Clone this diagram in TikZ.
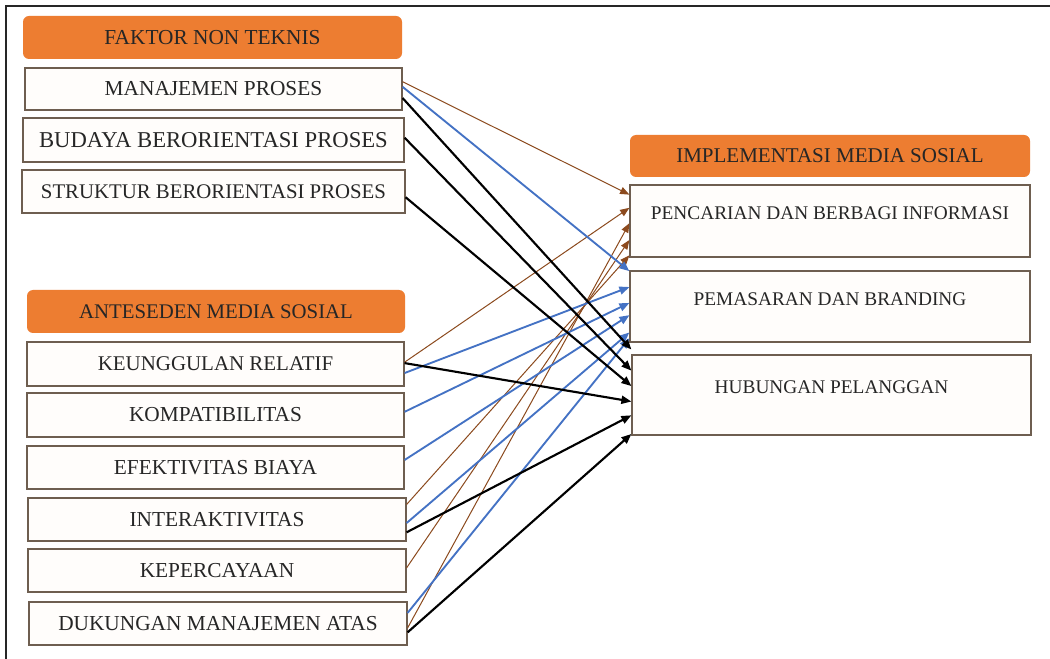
\documentclass[tikz,border=0pt]{standalone}
\usepackage{fontspec}
\setmainfont{Liberation Serif}
\usetikzlibrary{arrows.meta,calc}

\definecolor{hdrorange}{HTML}{ED7D31}
\definecolor{linkblue}{HTML}{4472C4}
\definecolor{linkbrown}{HTML}{8C4A1E}
\definecolor{boxedge}{HTML}{6E5E50}
\definecolor{boxfill}{HTML}{FFFDFB}
\definecolor{txt}{HTML}{262626}

\tikzset{
  basebox/.style={rectangle, inner sep=0pt, text=txt,
    font=\fontsize{16}{19}\selectfont},
  header/.style={basebox, fill=hdrorange, rounded corners=4.5pt},
  item/.style={basebox, draw=boxedge, fill=boxfill, line width=0.9pt},
  target/.style={item, text height=8pt, text depth=10pt,
    font=\fontsize{14.5}{17}\selectfont},
  brownlink/.style={draw=linkbrown, line width=0.75pt,
    -{Triangle[length=7pt,width=5.5pt]}},
  bluelink/.style={draw=linkblue, line width=1.4pt,
    -{Triangle[length=7.5pt,width=6pt]}},
  blacklink/.style={draw=black, line width=1.6pt,
    -{Triangle[length=7.5pt,width=6pt]}},
}

% point at fraction f down the right edge of a source box
\newcommand{\outpt}[2]{($(#1.north east)!#2!(#1.south east)$)}
% point at fraction f down the left edge of a target box
\newcommand{\inpt}[2]{($(#1.north west)!#2!(#1.south west)$)}

\begin{document}
\begin{tikzpicture}[x=0.75pt,y=-0.75pt]
\useasboundingbox (0,0) rectangle (1050,659);
\fill[white] (0,0) rectangle (1050,659);

% outer frame (top and left edges)
\draw[line width=1.6pt, black!85] (6,659) -- (6,6) -- (1050,6);

% non-technical factors
\node[header, minimum width=284.25pt, minimum height=32.25pt] (h1) at (212.5,37.5) {FAKTOR NON TEKNIS};
\node[item, minimum width=282.75pt, minimum height=31.5pt] (m1) at (213.5,89) {MANAJEMEN PROSES};
\node[item, minimum width=285.75pt, minimum height=33pt, font=\fontsize{17}{20}\selectfont] (m2) at (213.5,140) {BUDAYA BERORIENTASI PROSES};
\node[item, minimum width=287.25pt, minimum height=32.25pt, font=\fontsize{15.6}{19}\selectfont] (m3) at (213.5,191.5) {STRUKTUR BERORIENTASI PROSES};

% social media antecedents
\node[header, minimum width=283.5pt, minimum height=32.25pt, font=\fontsize{15.6}{19}\selectfont] (h2) at (216,311.5) {ANTESEDEN MEDIA SOSIAL};
\node[item, minimum width=282.75pt, minimum height=33pt, font=\fontsize{15.7}{19}\selectfont] (a1) at (215.5,364) {KEUNGGULAN RELATIF};
\node[item, minimum width=282.75pt, minimum height=33pt] (a2) at (215.5,415) {KOMPATIBILITAS};
\node[item, minimum width=282.75pt, minimum height=32.25pt] (a3) at (215.5,467.5) {EFEKTIVITAS BIAYA};
\node[item, minimum width=283.5pt, minimum height=32.25pt] (a4) at (217,519.5) {INTERAKTIVITAS};
\node[item, minimum width=283.5pt, minimum height=32.25pt] (a5) at (217,570.5) {KEPERCAYAAN};
\node[item, minimum width=283.5pt, minimum height=32.25pt] (a6) at (218,623.5) {DUKUNGAN MANAJEMEN ATAS};

% social media implementation
\node[header, minimum width=300pt, minimum height=31.5pt, font=\fontsize{15.75}{19}\selectfont] (h3) at (830,156) {IMPLEMENTASI MEDIA SOSIAL};
\node[target, minimum width=300pt, minimum height=54pt] (r1) at (830,221) {PENCARIAN DAN BERBAGI INFORMASI};
\node[target, minimum width=300pt, minimum height=53.25pt] (r2) at (830,306.5) {PEMASARAN DAN BRANDING};
\node[target, minimum width=299.25pt, minimum height=60pt] (r3) at (831.5,395) {HUBUNGAN PELANGGAN};

% links to information search and sharing
\draw[brownlink] \outpt{m1}{0.33} -- \inpt{r1}{0.14};
\draw[brownlink] \outpt{a1}{0.46} -- \inpt{r1}{0.32};
\draw[brownlink] \outpt{a6}{0.60} -- \inpt{r1}{0.53};
\draw[brownlink] \outpt{a5}{0.44} -- \inpt{r1}{0.76};
\draw[brownlink] \outpt{a4}{0.16} -- \inpt{r1}{0.97};

% links to marketing and branding
\draw[bluelink] \outpt{m1}{0.45} -- \inpt{r2}{0.01};
\draw[bluelink] \outpt{a1}{0.70} -- \inpt{r2}{0.23};
\draw[bluelink] \outpt{a2}{0.43} -- \inpt{r2}{0.45};
\draw[bluelink] \outpt{a3}{0.33} -- \inpt{r2}{0.62};
\draw[bluelink] \outpt{a4}{0.58} -- \inpt{r2}{0.86};
\draw[bluelink] \outpt{a6}{0.26} -- \inpt{r2}{0.94};

% links to customer relations
\draw[blacklink] \outpt{m1}{0.71} -- \inpt{r3}{-0.06};
\draw[blacklink] \outpt{m2}{0.45} -- \inpt{r3}{0.20};
\draw[blacklink] \outpt{m3}{0.63} -- \inpt{r3}{0.39};
\draw[blacklink] \outpt{a1}{0.48} -- \inpt{r3}{0.58};
\draw[blacklink] \outpt{a4}{0.79} -- \inpt{r3}{0.75};
\draw[blacklink] \outpt{a6}{0.70} -- \inpt{r3}{0.98};
\end{tikzpicture}
\end{document}
